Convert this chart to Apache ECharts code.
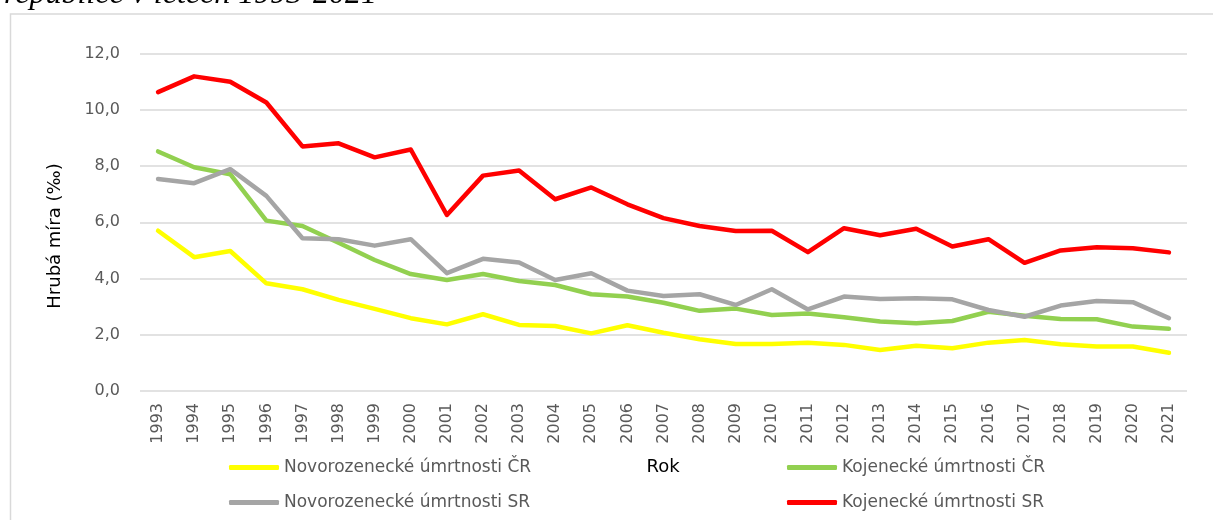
<!DOCTYPE html>
<html>
<head>
<meta charset="utf-8">
<script src="https://cdn.jsdelivr.net/npm/echarts@6/dist/echarts.min.js"></script>
<style>html,body{margin:0;padding:0;background:#fff;}#c{width:1213px;height:520px;}</style>
</head>
<body>
<div id="c"></div>
<script>
const years = ['1993','1994','1995','1996','1997','1998','1999','2000','2001','2002','2003','2004','2005','2006','2007','2008','2009','2010','2011','2012','2013','2014','2015','2016','2017','2018','2019','2020','2021'];
const novoCR = [5.7,4.76,4.98,3.83,3.62,3.24,2.92,2.59,2.37,2.73,2.35,2.31,2.05,2.34,2.07,1.84,1.67,1.67,1.72,1.64,1.46,1.61,1.52,1.72,1.81,1.66,1.58,1.58,1.36];
const kojCR = [8.52,7.96,7.71,6.06,5.87,5.27,4.66,4.16,3.95,4.16,3.91,3.77,3.44,3.36,3.14,2.85,2.93,2.7,2.76,2.62,2.47,2.41,2.49,2.82,2.68,2.56,2.55,2.29,2.21];
const novoSR = [7.54,7.39,7.89,6.94,5.43,5.4,5.17,5.4,4.19,4.7,4.57,3.95,4.19,3.57,3.38,3.44,3.06,3.62,2.9,3.36,3.27,3.3,3.26,2.88,2.64,3.04,3.2,3.16,2.59];
const kojSR = [10.63,11.19,11.0,10.26,8.7,8.81,8.31,8.59,6.26,7.66,7.84,6.82,7.24,6.64,6.15,5.87,5.69,5.7,4.94,5.79,5.54,5.77,5.14,5.4,4.56,5.0,5.11,5.08,4.93];
const names = ['Novorozenecké úmrtnosti ČR','Kojenecké úmrtnosti ČR','Novorozenecké úmrtnosti SR','Kojenecké úmrtnosti SR'];
const colors = ['#FFFF00','#92D050','#A5A5A5','#FF0000'];
const yTicks = [0,2,4,6,8,10,12];

const chart = echarts.init(document.getElementById('c'));
const font = 'DejaVu Sans';
const legendBase = {itemWidth:50,itemHeight:5,icon:'roundRect',textStyle:{color:'#595959',fontSize:17,fontFamily:font},padding:0,selectedMode:false};
chart.setOption({
  animation:false,
  backgroundColor:'#fff',
  grid:{left:140,right:26,top:53.6,bottom:129},
  xAxis:{type:'category',data:years,boundaryGap:true,
    axisLine:{show:false},axisTick:{show:false},
    axisLabel:{rotate:90,color:'#595959',fontSize:16,fontFamily:font,margin:12,interval:0}},
  yAxis:{type:'value',min:yTicks[0],max:yTicks[yTicks.length-1],interval:2,
    axisLine:{show:false},axisTick:{show:false},
    splitLine:{lineStyle:{color:'#D9D9D9',width:1.5}},
    axisLabel:{color:'#595959',fontSize:16,fontFamily:font,margin:20,formatter:v=>v.toFixed(1).replace('.',',')}},
  legend:[
    Object.assign({},legendBase,{data:[names[0]],left:229,top:459}),
    Object.assign({},legendBase,{data:[names[1]],left:787,top:459}),
    Object.assign({},legendBase,{data:[names[2]],left:229,top:494}),
    Object.assign({},legendBase,{data:[names[3]],left:787,top:494})
  ],
  graphic:[
    {type:'rect',shape:{x:10.5,y:14,width:1300,height:600},style:{fill:'none',stroke:'#D9D9D9',lineWidth:1.5},silent:true},
    {type:'text',left:4,top:-21,style:{text:'republice v letech 1993-2021',font:'italic 32px "Liberation Serif"',fill:'#000'}},
    {type:'text',x:55,y:236,rotation:Math.PI/2,style:{text:'Hrubá míra (‰)',fontSize:18,fontFamily:font,fill:'#000',align:'center',verticalAlign:'middle'}},
    {type:'text',x:663,y:467,style:{text:'Rok',fontSize:18,fontFamily:font,fill:'#000',align:'center',verticalAlign:'middle'}}
  ],
  series:[novoCR,kojCR,novoSR,kojSR].map((d,i)=>({
    name:names[i],type:'line',data:d,showSymbol:false,symbol:'none',
    itemStyle:{color:colors[i]},
    lineStyle:{color:colors[i],width:4.5,cap:'round',join:'round'}
  }))
});
</script>
</body>
</html>
